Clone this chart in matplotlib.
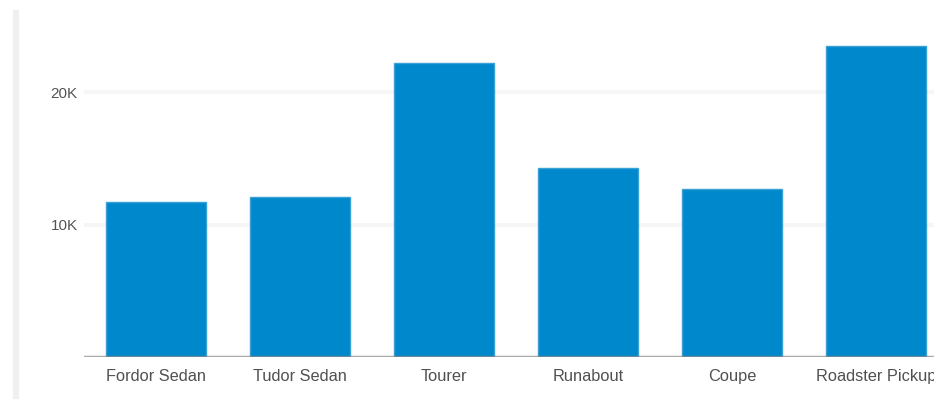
import matplotlib.pyplot as plt
from matplotlib.lines import Line2D

categories = ["Fordor Sedan", "Tudor Sedan", "Tourer", "Runabout", "Coupe", "Roadster Pickup"]
sales = [11700, 12100, 22200, 14300, 12700, 23500]
yticks = [10000, 20000]
ytick_labels = ["10K", "20K"]

plt.rcParams['font.family'] = ['Liberation Sans', 'DejaVu Sans']

W, H = 934, 399
fig = plt.figure(figsize=(W / 100, H / 100), dpi=100)

# axes spans a bit past the right edge, like the cropped original
left, right = 84, 948
bottom, top = 357, 25.75
ax = fig.add_axes([left / W, 1 - bottom / H, (right - left) / W, (bottom - top) / H])

x = range(len(categories))
ax.bar(x, sales, width=0.7, color="#0088cc", edgecolor="#3aa0d6", linewidth=1, zorder=2)
ax.set_xlim(-0.5, len(categories) - 0.5)
ax.set_ylim(0, 25000)

for t in yticks:
    ax.axhline(t, color="#f6f6f6", linewidth=3, zorder=1)
ax.axhline(0, color="#888888", linewidth=2.5, alpha=0.7, zorder=3)

for s in ax.spines.values():
    s.set_visible(False)
ax.set_yticks(yticks)
ax.set_yticklabels(ytick_labels)
ax.tick_params(axis="y", length=0, pad=4.5, labelsize=11, labelcolor="#555555")
ax.set_xticks(list(x))
ax.set_xticklabels(categories)
ax.tick_params(axis="x", length=0, pad=8.5, labelsize=11.8, labelcolor="#505050")

# light border strip on the left of the page
fig.add_artist(Line2D([16 / W, 16 / W], [0, 1 - 13 / H], color="#f0f0f0", linewidth=4.5,
                      transform=fig.transFigure))

fig.savefig("out.png", dpi=100)
